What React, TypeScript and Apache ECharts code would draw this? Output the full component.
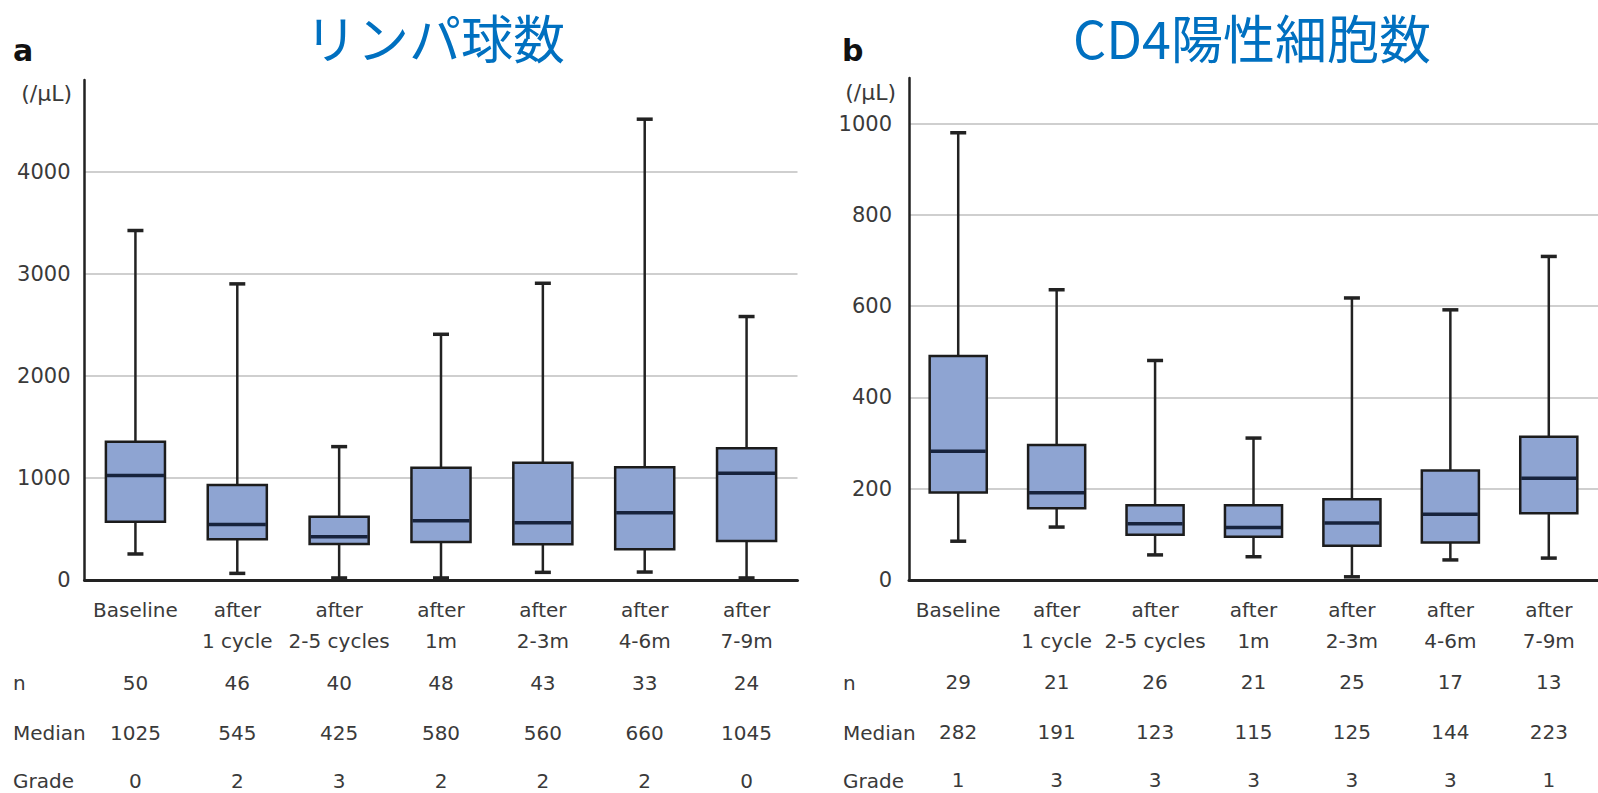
import React, { useEffect, useRef } from "react";
import * as echarts from "echarts";

// ---------- data ----------
const categories = [
  "Baseline",
  "after\n1 cycle",
  "after\n2-5 cycles",
  "after\n1m",
  "after\n2-3m",
  "after\n4-6m",
  "after\n7-9m",
];

// Lymphocyte count (/μL)
const lymphMin = [255, 65, 20, 20, 75, 78, 20];
const lymphQ1 = [572, 399, 353, 373, 350, 301, 382];
const lymphMedian = [1025, 545, 425, 580, 560, 660, 1045];
const lymphQ3 = [1356, 931, 621, 1101, 1150, 1105, 1291];
const lymphMax = [3425, 2902, 1307, 2408, 2908, 4516, 2582];
const lymphN = ["50", "46", "40", "48", "43", "33", "24"];
const lymphGrade = ["0", "2", "3", "2", "2", "2", "0"];

// CD4 positive cell count (/μL)
const cd4Min = [85, 116, 55, 51, 7, 44, 48];
const cd4Q1 = [192, 157, 99, 95, 75, 82, 146];
const cd4Median = [282, 191, 123, 115, 125, 144, 223];
const cd4Q3 = [491, 296, 164, 164, 177, 240, 314];
const cd4Max = [980, 636, 481, 311, 618, 592, 709];
const cd4N = ["29", "21", "26", "21", "25", "17", "13"];
const cd4Grade = ["1", "3", "3", "3", "3", "3", "1"];

const rowTitles = ["n", "Median", "Grade"];
const lymphTicks = { min: 0, max: 4900, interval: 1000 };
const cd4Ticks = { min: 0, max: 1100, interval: 200 };

// ---------- styles ----------
const FONT = "'DejaVu Sans', 'Liberation Sans', sans-serif";
const TEXT = "#3a3a3a";
const BOX_FILL = "#8EA4D2";
const BOX_STROKE = "#1c1c1c";
const MED_STROKE = "#17233d";

function buildBoxData(mn: number[], q1: number[], md: number[], q3: number[], mx: number[]) {
  return mn.map((v, i) => [i, v, q1[i], md[i], q3[i], mx[i]]);
}

function renderBox(params: any, api: any) {
  const x = api.value(0);
  const lo = api.coord([x, api.value(1)]);
  const q1 = api.coord([x, api.value(2)]);
  const md = api.coord([x, api.value(3)]);
  const q3 = api.coord([x, api.value(4)]);
  const hi = api.coord([x, api.value(5)]);
  const band = api.size([1, 0])[0];
  const bw = band * 0.58;
  const cx = q1[0];
  const cap = 8;
  const wStyle = { stroke: "#222", lineWidth: 2.5 };
  const cStyle = { stroke: "#222", lineWidth: 3.5 };
  return {
    type: "group",
    children: [
      { type: "line", shape: { x1: cx, y1: hi[1], x2: cx, y2: q3[1] }, style: wStyle },
      { type: "line", shape: { x1: cx, y1: q1[1], x2: cx, y2: lo[1] }, style: wStyle },
      { type: "line", shape: { x1: cx - cap, y1: hi[1], x2: cx + cap, y2: hi[1] }, style: cStyle },
      { type: "line", shape: { x1: cx - cap, y1: lo[1], x2: cx + cap, y2: lo[1] }, style: cStyle },
      {
        type: "rect",
        shape: { x: cx - bw / 2, y: q3[1], width: bw, height: q1[1] - q3[1] },
        style: { fill: BOX_FILL, stroke: BOX_STROKE, lineWidth: 2.5 },
      },
      {
        type: "line",
        shape: { x1: cx - bw / 2 + 1, y1: md[1], x2: cx + bw / 2 - 1, y2: md[1] },
        style: { stroke: MED_STROKE, lineWidth: 3.5 },
      },
    ],
  };
}

function tableAxis(gridIndex: number, data: string[], offset: number) {
  return {
    type: "category",
    gridIndex,
    position: "bottom",
    offset,
    data,
    axisLine: { show: false },
    axisTick: { show: false },
    splitLine: { show: false },
    axisLabel: {
      interval: 0,
      margin: 0,
      color: TEXT,
      fontFamily: FONT,
      fontSize: 20,
      lineHeight: 24,
    },
  };
}

function catAxis(gridIndex: number) {
  return {
    type: "category",
    gridIndex,
    data: categories,
    boundaryGap: true,
    axisLine: { show: true, lineStyle: { color: "#222", width: 3 } },
    axisTick: { show: false },
    splitLine: { show: false },
    axisLabel: {
      interval: 0,
      margin: 14,
      color: TEXT,
      fontFamily: FONT,
      fontSize: 20,
      lineHeight: 31,
      verticalAlign: "top",
    },
  };
}

function valAxis(gridIndex: number, t: { min: number; max: number; interval: number }, margin: number) {
  return {
    type: "value",
    gridIndex,
    min: t.min,
    max: t.max,
    interval: t.interval,
    axisLine: { show: true, lineStyle: { color: "#222", width: 2.5 } },
    axisTick: { show: false },
    axisLabel: {
      showMaxLabel: false,
      margin,
      color: TEXT,
      fontFamily: FONT,
      fontSize: 21,
      formatter: (v: number) => String(v),
    },
    splitLine: {
      show: true,
      showMaxLine: false,
      showMinLine: false,
      lineStyle: { color: "#cfcfcf", width: 2 },
    },
  };
}

function textEl(text: string, x: number, y: number, font: string, fill: string, align: string) {
  return {
    type: "text",
    x,
    y,
    style: { text, font, fill, textAlign: align, textVerticalAlign: "middle" },
  };
}

export default function App() {
  const ref = useRef<HTMLDivElement>(null);
  useEffect(() => {
    if (!ref.current) return;
    const chart = echarts.init(ref.current, undefined, { renderer: "svg" });
    const rowY = [683, 733, 781];
    const graphics: any[] = [
      textEl("リンパ球数", 435, 36, "52px 'Noto Sans CJK JP', sans-serif", "#0070C0", "center"),
      textEl("CD4陽性細胞数", 1252, 36, "52px 'Noto Sans CJK JP', sans-serif", "#0070C0", "center"),
      textEl("a", 13, 50, "bold 30px " + FONT, "#111", "left"),
      textEl("b", 842, 50, "bold 30px " + FONT, "#111", "left"),
      textEl("(/μL)", 72, 93, "22px " + FONT, TEXT, "right"),
      textEl("(/μL)", 896, 92, "22px " + FONT, TEXT, "right"),
    ];
    rowTitles.forEach((t, i) => {
      graphics.push(textEl(t, 13, rowY[i], "20px " + FONT, TEXT, "left"));
      graphics.push(textEl(t, 843, rowY[i], "20px " + FONT, TEXT, "left"));
    });

    chart.setOption({
      animation: false,
      backgroundColor: "#ffffff",
      grid: [
        { left: 84.5, top: 80, width: 713, height: 500 },
        { left: 909, top: 78, width: 703, height: 502 },
      ],
      xAxis: [
        catAxis(0),
        tableAxis(0, lymphN, 91),
        tableAxis(0, lymphMedian.map(String), 141),
        tableAxis(0, lymphGrade, 189),
        catAxis(1),
        tableAxis(1, cd4N, 90),
        tableAxis(1, cd4Median.map(String), 140),
        tableAxis(1, cd4Grade, 188),
      ],
      yAxis: [valAxis(0, lymphTicks, 14), valAxis(1, cd4Ticks, 17)],
      series: [
        {
          type: "custom",
          xAxisIndex: 0,
          yAxisIndex: 0,
          renderItem: renderBox,
          encode: { x: 0, y: [1, 2, 3, 4, 5] },
          data: buildBoxData(lymphMin, lymphQ1, lymphMedian, lymphQ3, lymphMax),
          z: 5,
        },
        {
          type: "custom",
          xAxisIndex: 4,
          yAxisIndex: 1,
          renderItem: renderBox,
          encode: { x: 0, y: [1, 2, 3, 4, 5] },
          data: buildBoxData(cd4Min, cd4Q1, cd4Median, cd4Q3, cd4Max),
          z: 5,
        },
      ],
      graphic: graphics,
    });
    return () => chart.dispose();
  }, []);
  return (
    <div
      ref={ref}
      style={{ position: "fixed", left: 0, top: 0, width: 1598, height: 793, background: "#fff" }}
    />
  );
}
